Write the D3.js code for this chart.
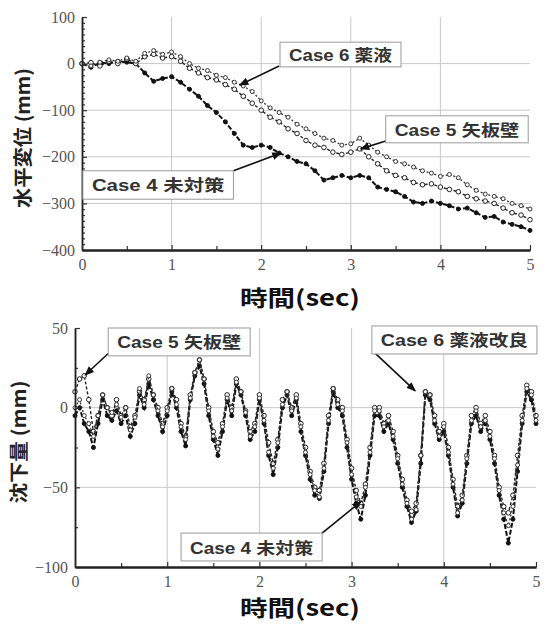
<!DOCTYPE html>
<html>
<head>
<meta charset="utf-8">
<script src="https://cdn.jsdelivr.net/npm/d3@7/dist/d3.min.js"></script>
<style>
  html, body { margin: 0; padding: 0; background: #fff; }
  svg { display: block; }
</style>
</head>
<body>
<svg id="chart" width="545" height="624"></svg>
<script>
// ---- Horizontal displacement (upper panel), sampled every 0.1 s ----
const timeTop = [0.0,0.1,0.2,0.3,0.4,0.5,0.6,0.7,0.8,0.9,1.0,1.1,1.2,1.3,1.4,1.5,1.6,1.7,1.8,1.9,
  2.0,2.1,2.2,2.3,2.4,2.5,2.6,2.7,2.8,2.9,3.0,3.1,3.2,3.3,3.4,3.5,3.6,3.7,3.8,3.9,
  4.0,4.1,4.2,4.3,4.4,4.5,4.6,4.7,4.8,4.9,5.0];
const dispCase4 = [0,-8,2,0,5,3,0,-20,-38,-32,-28,-40,-55,-70,-90,-105,-125,-150,-175,-180,
  -175,-180,-192,-200,-210,-215,-230,-250,-245,-240,-245,-240,-245,-265,-270,-275,-285,-297,-300,-295,
  -300,-305,-312,-310,-320,-330,-328,-340,-345,-350,-358];
const dispCase5 = [0,2,-5,5,0,10,0,15,20,12,15,5,-10,-20,-30,-35,-45,-55,-70,-85,
  -100,-115,-125,-140,-150,-165,-175,-180,-190,-195,-190,-183,-200,-215,-230,-240,-245,-255,-260,-258,
  -265,-270,-275,-285,-290,-295,-300,-310,-320,-325,-335];
const dispCase6 = [0,-5,3,8,5,12,5,22,28,20,25,15,0,-10,-15,-25,-30,-40,-48,-60,
  -80,-95,-105,-115,-130,-140,-150,-160,-165,-175,-172,-160,-175,-190,-200,-210,-215,-222,-230,-235,
  -242,-238,-245,-260,-272,-280,-285,-290,-300,-305,-312];

// ---- Settlement (lower panel), sampled every 0.05 s ----
const timeBottom = [0.00,0.05,0.10,0.15,0.20,0.25,0.30,0.35,0.40,0.45,0.50,0.55,0.60,0.65,0.70,0.75,0.80,0.85,0.90,0.95,
  1.00,1.05,1.10,1.15,1.20,1.25,1.30,1.35,1.40,1.45,1.50,1.55,1.60,1.65,1.70,1.75,1.80,1.85,1.90,1.95,
  2.00,2.05,2.10,2.15,2.20,2.25,2.30,2.35,2.40,2.45,2.50,2.55,2.60,2.65,2.70,2.75,2.80,2.85,2.90,2.95,
  3.00,3.05,3.10,3.15,3.20,3.25,3.30,3.35,3.40,3.45,3.50,3.55,3.60,3.65,3.70,3.75,3.80,3.85,3.90,3.95,
  4.00,4.05,4.10,4.15,4.20,4.25,4.30,4.35,4.40,4.45,4.50,4.55,4.60,4.65,4.70,4.75,4.80,4.85,4.90,4.95,5.00];
const settleCase4 = [-5,0,-10,-15,-25,-10,5,-5,-8,-2,-10,-5,-18,-10,8,0,15,5,-5,-15,
  -5,10,0,-15,-24,5,20,26,15,-5,-20,-30,-15,5,-5,15,8,-5,-20,-15,
  5,-10,-30,-42,-25,0,8,-5,5,-15,-30,-45,-55,-57,-40,-10,10,0,-5,-25,
  -45,-60,-70,-55,-30,-5,-5,-15,-10,-20,-35,-50,-62,-72,-65,-35,8,5,-10,-20,
  -15,-30,-50,-68,-60,-35,-10,-5,-15,-10,-20,-35,-55,-70,-85,-70,-40,-10,10,5,-10];
const settleCase5 = [10,18,20,5,-15,-5,8,0,-5,5,-5,0,-12,-5,10,5,18,8,0,-10,
  0,12,5,-10,-18,8,22,30,18,0,-15,-22,-10,8,0,18,10,-2,-15,-10,
  8,-5,-22,-35,-20,5,10,0,8,-10,-25,-40,-50,-52,-35,-5,12,5,0,-20,
  -38,-52,-60,-48,-25,0,0,-10,-5,-15,-30,-45,-58,-65,-60,-30,10,8,-5,-15,
  -10,-25,-45,-62,-55,-30,-5,0,-10,-5,-15,-30,-50,-62,-66,-55,-30,-5,14,10,-5];
const settleCase6 = [0,5,-5,-10,-18,-5,8,0,-3,2,-6,0,-14,-6,12,2,20,8,-2,-12,
  -2,12,2,-12,-20,6,22,30,18,-2,-18,-26,-12,6,-2,16,10,-3,-18,-12,
  6,-8,-28,-38,-22,2,10,-2,6,-12,-28,-42,-52,-56,-38,-8,12,2,-2,-22,
  -42,-56,-62,-50,-28,-2,-2,-12,-8,-18,-32,-48,-60,-70,-64,-30,10,8,-8,-18,
  -12,-28,-48,-66,-58,-32,-8,-2,-12,-8,-18,-32,-52,-66,-74,-62,-36,-8,12,8,-8];

// ---- axis ticks ----
const timeTicks = [0, 1, 2, 3, 4, 5];
const timeMinorTicks = [0.5, 1.5, 2.5, 3.5, 4.5];
const dispTicks = [100, 0, -100, -200, -300, -400];
const settleTicks = [50, 0, -50, -100];

// ---- titles and annotations ----
const timeTitle = "時間(sec)";
const dispTitle = "水平変位 (mm)";
const settleTitle = "沈下量 (mm)";
const seriesNames = ["Case 4 未対策", "Case 5 矢板壁", "Case 6 薬液"];
const settleNames = ["Case 4 未対策", "Case 5 矢板壁", "Case 6 薬液改良"];

const svg = d3.select("#chart");
const FONT_JP = "'Liberation Sans','Noto Sans CJK JP',sans-serif";
const FONT_NUM = "'Liberation Serif','DejaVu Serif',serif";

const defs = svg.append("defs");
defs.append("marker")
  .attr("id", "arrowHead")
  .attr("viewBox", "0 0 10 10")
  .attr("refX", 9).attr("refY", 5)
  .attr("markerWidth", 6).attr("markerHeight", 6)
  .attr("orient", "auto")
  .append("path").attr("d", "M0,1 L10,5 L0,9 Z").attr("fill", "#111");

// Series styling: Case 4 solid markers, Case 5 / Case 6 open markers
const styles = [
  { stroke: "#111", width: 2.0, dash: "5,2", fill: "#111", r: 2.0, mstroke: "#111" },
  { stroke: "#222", width: 1.4, dash: "3,2", fill: "#fff", r: 2.3, mstroke: "#222" },
  { stroke: "#333", width: 1.3, dash: "2,2", fill: "#fff", r: 2.0, mstroke: "#333" }
];

function drawPanel(p) {
  const g = svg.append("g");
  const x = d3.scaleLinear().domain([0, 5]).range(p.xRange);
  const y = d3.scaleLinear().domain(p.yDomain).range(p.yRange);

  // grid
  g.append("g").selectAll("line").data(p.vGrid).join("line")
    .attr("x1", d => x(d)).attr("x2", d => x(d))
    .attr("y1", y(p.yDomain[1])).attr("y2", y(p.yDomain[0]))
    .attr("stroke", "#c8c8c8").attr("stroke-width", 1);
  g.append("g").selectAll("line").data(p.hGrid).join("line")
    .attr("x1", x(0)).attr("x2", x(5))
    .attr("y1", d => y(d)).attr("y2", d => y(d))
    .attr("stroke", "#c8c8c8").attr("stroke-width", 1);

  // series
  p.series.forEach((vals, i) => {
    const st = styles[i];
    const pts = p.time.map((t, k) => [t, vals[k]]);
    const line = d3.line().x(d => x(d[0])).y(d => y(d[1]));
    g.append("path").datum(pts)
      .attr("d", line)
      .attr("fill", "none")
      .attr("stroke", st.stroke)
      .attr("stroke-width", st.width)
      .attr("stroke-dasharray", st.dash);
    g.append("g").selectAll("circle").data(pts).join("circle")
      .attr("cx", d => x(d[0])).attr("cy", d => y(d[1]))
      .attr("r", st.r)
      .attr("fill", st.fill)
      .attr("stroke", st.mstroke)
      .attr("stroke-width", 1);
  });

  // axes
  const yAxis = d3.axisLeft(y).tickValues(p.yTicks).tickSizeInner(-5).tickSizeOuter(0).tickPadding(7)
    .tickFormat(d3.format("d"));
  const yMinor = d3.axisLeft(y).tickValues(p.yMinor).tickSizeInner(-3).tickSizeOuter(0).tickFormat("");
  const xAxis = d3.axisBottom(x).tickValues(timeTicks).tickSizeInner(-5).tickSizeOuter(0).tickPadding(9)
    .tickFormat(d3.format("d"));
  const xMinor = d3.axisBottom(x).tickValues(timeMinorTicks).tickSizeInner(-4).tickSizeOuter(0).tickFormat("");

  const styleAxis = (sel, w) => {
    sel.select(".domain").attr("stroke", "#222").attr("stroke-width", w);
    sel.selectAll(".tick line").attr("stroke", "#333").attr("stroke-width", 1.2);
    sel.selectAll(".tick text").attr("fill", "#555").style("font-family", FONT_NUM).style("font-size", "16px");
  };

  g.append("g").attr("transform", `translate(${x(0)},0)`).call(yMinor).call(s => styleAxis(s, 1.5));
  g.append("g").attr("transform", `translate(${x(0)},0)`).call(yAxis).call(s => styleAxis(s, 1.5));
  g.append("g").attr("transform", `translate(0,${y(p.yDomain[0])})`).call(xMinor).call(s => styleAxis(s, 2));
  g.append("g").attr("transform", `translate(0,${y(p.yDomain[0])})`).call(xAxis).call(s => styleAxis(s, 2));

  // titles
  g.append("text")
    .attr("x", p.xTitlePos[0]).attr("y", p.xTitlePos[1])
    .attr("text-anchor", "middle")
    .style("font-family", "'Noto Sans CJK JP',sans-serif")
    .style("font-weight", "bold").style("font-size", "22px")
    .attr("fill", "#111")
    .attr("textLength", 120).attr("lengthAdjust", "spacingAndGlyphs")
    .text(timeTitle);
  g.append("text")
    .attr("transform", `translate(${p.yTitlePos[0]},${p.yTitlePos[1]}) rotate(-90)`)
    .attr("text-anchor", "middle")
    .attr("dominant-baseline", "central")
    .style("font-family", "'Noto Sans CJK JP',sans-serif")
    .style("font-weight", "bold").style("font-size", "19px")
    .attr("fill", "#222")
    .attr("textLength", p.yTitleLen).attr("lengthAdjust", "spacingAndGlyphs")
    .text(p.yTitle);

  // annotation boxes with leader arrows
  p.notes.forEach(n => {
    const bx = x(n.box[0]), by = y(n.box[1]);
    const bw = x(n.box[2]) - bx, bh = y(n.box[3]) - by;
    g.append("line")
      .attr("x1", x(n.from[0])).attr("y1", y(n.from[1]))
      .attr("x2", x(n.to[0])).attr("y2", y(n.to[1]))
      .attr("stroke", "#111").attr("stroke-width", 1.6)
      .attr("marker-end", "url(#arrowHead)");
    g.append("rect")
      .attr("x", bx).attr("y", by).attr("width", bw).attr("height", bh)
      .attr("fill", "#fff").attr("stroke", "#9a9a9a").attr("stroke-width", 1);
    g.append("text")
      .attr("x", bx + bw / 2).attr("y", by + bh / 2 + 1)
      .attr("text-anchor", "middle").attr("dominant-baseline", "central")
      .style("font-family", FONT_JP).style("font-weight", "bold").style("font-size", "16px")
      .attr("fill", "#333")
      .attr("textLength", bw - 18).attr("lengthAdjust", "spacingAndGlyphs")
      .text(n.label);
  });
}

drawPanel({
  xRange: [82, 530], yDomain: [-400, 100], yRange: [250, 17],
  time: timeTop, series: [dispCase4, dispCase5, dispCase6],
  yTicks: dispTicks, yMinor: d3.range(-400, 100, 12.5).filter(v => v % 100 !== 0),
  vGrid: [1, 2, 3, 4], hGrid: [0, -100, -200, -300],
  xTitlePos: [300, 306], yTitle: dispTitle, yTitlePos: [21, 138], yTitleLen: 140,
  notes: [
    { label: seriesNames[2], box: [2.21, 46, 3.56, -7], from: [2.2, -5], to: [1.76, -46] },
    { label: seriesNames[1], box: [3.39, -112, 4.98, -170], from: [3.39, -166], to: [3.11, -183] },
    { label: seriesNames[0], box: [0.01, -230, 1.69, -291], from: [1.69, -230], to: [2.22, -192] }
  ]
});

drawPanel({
  xRange: [75, 536], yDomain: [-100, 50], yRange: [567, 328],
  time: timeBottom, series: [settleCase4, settleCase5, settleCase6],
  yTicks: settleTicks, yMinor: [25, -25, -75],
  vGrid: [1, 2, 3, 4], hGrid: [0, -50],
  xTitlePos: [300, 616], yTitle: settleTitle, yTitlePos: [17, 442], yTitleLen: 123,
  notes: [
    { label: settleNames[1], box: [0.36, 50, 1.9, 32.5], from: [0.36, 34], to: [0.11, 20.5] },
    { label: settleNames[2], box: [3.22, 51.3, 5.01, 33.7], from: [3.24, 35], to: [3.69, 10.5] },
    { label: settleNames[0], box: [1.15, -78.7, 2.68, -96.2], from: [2.68, -78.7], to: [3.1, -59] }
  ]
});
</script>
</body>
</html>
